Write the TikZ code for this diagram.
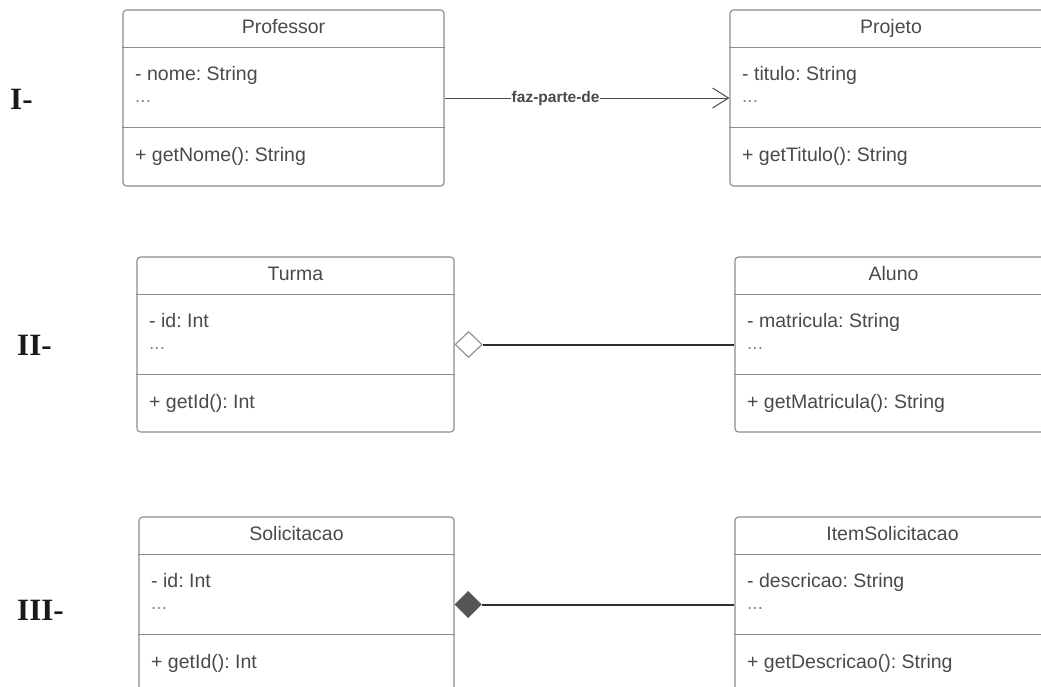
\documentclass[tikz,border=0pt]{standalone}
\usepackage{fontspec}
\setmainfont{Liberation Sans}
\newfontfamily\romanfont{Liberation Serif}
\usetikzlibrary{arrows.meta,shapes.geometric}
\frenchspacing
\definecolor{txt}{HTML}{4A4A4A}
\definecolor{bord}{HTML}{8C8C8C}
\definecolor{conn}{HTML}{2E2E2E}
\definecolor{fillD}{HTML}{555555}
\tikzset{
  clsbox/.style={draw=bord, line width=1.1pt, rounded corners=3.5pt, inner sep=0pt, fill=white},
  clsdiv/.style={draw=bord, line width=1.1pt},
  clstitle/.style={anchor=base, inner sep=0pt, text=txt, font=\frenchspacing\fontsize{19.5}{23}\selectfont},
  clstext/.style={anchor=base west, inner sep=0pt, text=txt, font=\frenchspacing\fontsize{19.5}{23}\selectfont},
  clsdots/.style={anchor=base west, inner sep=0pt, text=txt!65, font=\fontsize{19}{22}\selectfont},
  romanlbl/.style={anchor=base west, inner sep=0pt, text=black!90, font=\romanfont\bfseries\fontsize{31}{36}\selectfont},
  assocline/.style={draw=black!70, line width=1pt, -{Straight Barb[length=16pt,width=20pt,line width=1pt]}},
  relline/.style={draw=conn, line width=2pt},
  aggdiamond/.style={diamond, draw=bord, line width=1.1pt, fill=white, minimum width=27pt, minimum height=26pt, inner sep=0pt, anchor=west},
  compdiamond/.style={diamond, draw=fillD, line width=1pt, fill=fillD, minimum width=26pt, minimum height=26pt, inner sep=0pt, anchor=west},
  edgelbl/.style={fill=white, inner sep=0.5pt, text=txt, font=\bfseries\fontsize{15.5}{18}\selectfont}
}
\newcommand\umlclass[8]{%
  \node[clsbox, minimum width={#4-#2}, minimum height={#5-#3}] (#1) at ({(#2+#4)/2},{(#3+#5)/2}) {};
  \draw[clsdiv] ([yshift=-38pt]#1.north west) -- ([yshift=-38pt]#1.north east);
  \draw[clsdiv] ([yshift=-118pt]#1.north west) -- ([yshift=-118pt]#1.north east);
  \node[clstitle] (#1-t) at ({(#2+#4)/2},{#3+23.5}) {#6};
  \node[clstext] (#1-a) at ({#2+12},{#3+70}) {#7};
  \node[clsdots] (#1-d) at ({#2+12},{#3+92}) {...};
  \node[clstext] (#1-m) at ({#2+12},{#3+151}) {#8};
}
\begin{document}
\begin{tikzpicture}[x=1pt,y=-1pt]
\useasboundingbox (0,0) rectangle (1041,686);
\clip (0,0) rectangle (1041,686);
\fill[white] (0,0) rectangle (1041,686);

\node[romanlbl] (l1) at (10,109) {I-};
\node[romanlbl] (l2) at (17,355) {II-};
\node[romanlbl] (l3) at (17,620) {III-};

\umlclass{prof}{123}{10}{444}{186}{Professor}{- nome: String}{+ getNome(): String}
\umlclass{proj}{730}{10}{1052}{186}{Projeto}{- titulo: String}{+ getTitulo(): String}
\umlclass{turma}{137}{257}{454}{432}{Turma}{- id: Int}{+ getId(): Int}
\umlclass{aluno}{735}{257}{1052}{432}{Aluno}{- matricula: String}{+ getMatricula(): String}
\umlclass{solic}{139}{517}{454}{692}{Solicitacao}{- id: Int}{+ getId(): Int}
\umlclass{item}{735}{517}{1050}{692}{ItemSolicitacao}{- descricao: String}{+ getDescricao(): String}

\draw[assocline] (prof.east) -- node[pos=0.39, edgelbl] (lbl1) {faz-parte-de} (proj.west);

\node[aggdiamond] (d2) at (turma.east) {};
\draw[relline] (d2.east) -- (aluno.west |- d2.east);

\node[compdiamond] (d3) at (solic.east) {};
\draw[relline] (d3.east) -- (item.west |- d3.east);
\end{tikzpicture}
\end{document}
